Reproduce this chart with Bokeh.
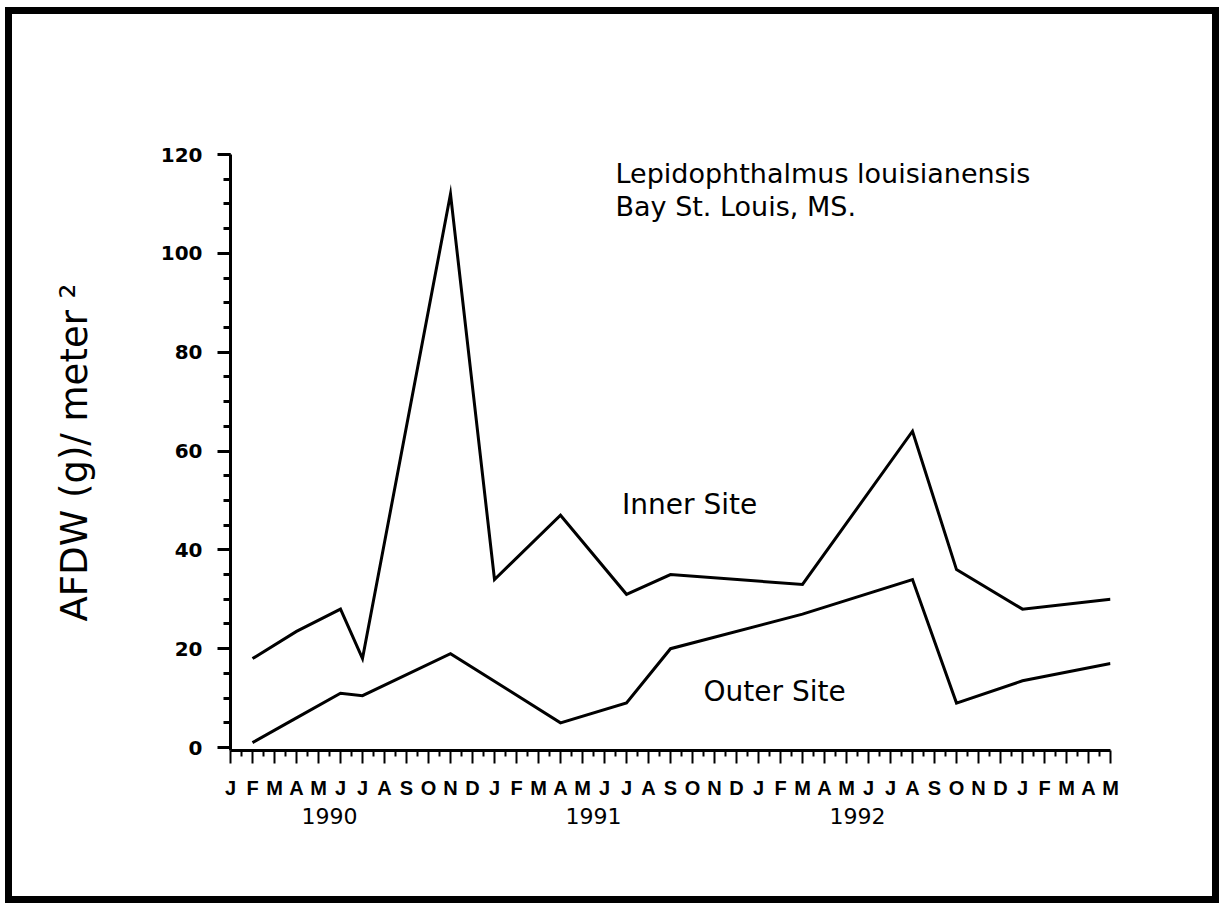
from bokeh.plotting import figure
from bokeh.models import Range1d, FixedTicker, LinearAxis, Label
from bokeh.embed import file_html
from bokeh.resources import INLINE

# ---- data ----
month_letters = list("JFMAMJJASOND") * 3 + list("JFMAM")
month_ticks = list(range(len(month_letters)))
year_labels = ["1990", "1991", "1992"]
year_ticks = [4.5, 16.5, 28.5]
y_ticks = [0, 20, 40, 60, 80, 100, 120]

# months since Jan 1990
inner_month = [1, 3, 5, 6, 10, 12, 15, 18, 20, 26, 31, 33, 36, 40]
inner_afdw = [18, 23.5, 28, 18, 112, 34, 47, 31, 35, 33, 64, 36, 28, 30]
outer_month = [1, 3, 5, 6, 10, 15, 18, 20, 26, 31, 33, 36, 40]
outer_afdw = [1, 6, 11, 10.5, 19, 5, 9, 20, 27, 34, 9, 13.5, 17]

FONT = "DejaVu Sans"

p = figure(frame_width=880, frame_height=596,
           x_range=Range1d(0, 40), y_range=Range1d(-0.6, 120),
           output_backend="svg", toolbar_location=None,
           x_axis_type=None, y_axis_type=None,
           min_border_left=218, min_border_right=102,
           min_border_top=140, min_border_bottom=146,
           background_fill_color="white", border_fill_color="white")
p.outline_line_color = None
p.styles = {"border": "7px solid black", "margin-left": "5px", "margin-top": "7px"}

# y axis
yaxis = LinearAxis(ticker=FixedTicker(ticks=y_ticks, minor_ticks=list(range(0, 121, 5))))
yaxis.axis_label = "AFDW (g)/ meter ²"
yaxis.axis_label_text_font = FONT
yaxis.axis_label_text_font_size = "37px"
yaxis.axis_label_text_font_style = "normal"
yaxis.axis_label_text_color = "black"
yaxis.axis_label_standoff = 62
yaxis.axis_line_width = 3
yaxis.major_tick_line_width = 3
yaxis.minor_tick_line_width = 3
yaxis.major_tick_out = 13
yaxis.major_tick_in = 0
yaxis.minor_tick_out = 7
yaxis.minor_tick_in = 0
yaxis.major_label_text_font = FONT
yaxis.major_label_text_font_style = "bold"
yaxis.major_label_text_font_size = "20px"
yaxis.major_label_text_color = "black"
yaxis.major_label_standoff = 15
p.add_layout(yaxis, "left")

# x axis (months)
xaxis = LinearAxis(ticker=FixedTicker(ticks=month_ticks,
                                      minor_ticks=[m + 0.5 for m in month_ticks[:-1]]),
                   major_label_overrides={i: l for i, l in zip(month_ticks, month_letters)})
xaxis.axis_line_width = 3
xaxis.major_tick_line_width = 2
xaxis.minor_tick_line_width = 2
xaxis.major_tick_out = 13
xaxis.major_tick_in = 0
xaxis.minor_tick_out = 6
xaxis.minor_tick_in = 0
xaxis.major_label_text_font = "Liberation Sans"
xaxis.major_label_text_font_style = "bold"
xaxis.major_label_text_font_size = "20px"
xaxis.major_label_text_color = "black"
xaxis.major_label_standoff = 13
p.add_layout(xaxis, "below")

# x axis (years)
yr = LinearAxis(ticker=FixedTicker(ticks=year_ticks),
                major_label_overrides={t: l for t, l in zip(year_ticks, year_labels)})
yr.axis_line_color = None
yr.major_tick_line_color = None
yr.minor_tick_line_color = None
yr.major_tick_out = 0
yr.major_tick_in = 0
yr.major_label_text_font = FONT
yr.major_label_text_font_size = "22px"
yr.major_label_text_color = "black"
yr.major_label_standoff = 6
p.add_layout(yr, "below")

# series
p.line(inner_month, inner_afdw, line_width=3, line_color="black", line_join="miter")
p.line(outer_month, outer_afdw, line_width=3, line_color="black", line_join="miter")

# texts
for txt, x, y, size in [("Lepidophthalmus louisianensis", 17.5, 116.1, "27px"),
                        ("Bay St. Louis, MS.", 17.5, 109.4, "27px"),
                        ("Inner Site", 17.8, 49.1, "28px"),
                        ("Outer Site", 21.5, 11.3, "28px")]:
    p.add_layout(Label(x=x, y=y, text=txt, text_font=FONT, text_font_size=size,
                       text_color="black", text_baseline="alphabetic", text_align="left"))

open("out.html", "w").write(file_html(p, INLINE))
